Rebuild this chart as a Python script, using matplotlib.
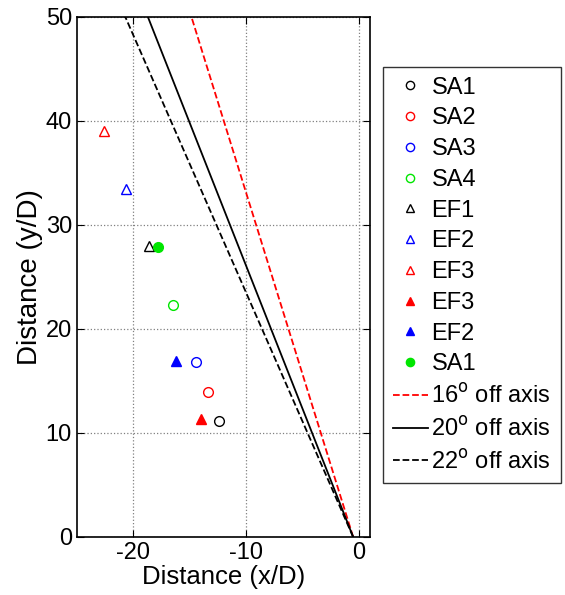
import matplotlib
matplotlib.use("Agg")
import matplotlib.pyplot as plt
import numpy as np

plt.rcParams['font.family'] = ['Liberation Sans', 'DejaVu Sans']
plt.rcParams['axes.unicode_minus'] = False

# points mesurés (x/D, y/D)
labels = ['SA1', 'SA2', 'SA3', 'SA4', 'EF1', 'EF2', 'EF3', 'EF3', 'EF2', 'SA1']
xs = [-12.4, -13.4, -14.4, -16.5, -18.6, -20.6, -22.6, -14.0, -16.2, -17.8]
ys = [11.2, 13.9, 16.8, 22.3, 28.0, 33.5, 39.0, 11.3, 16.9, 27.9]
colors = ['k', 'r', 'b', '#00e600', 'k', 'b', 'r', 'r', 'b', '#00e600']
markers = ['o', 'o', 'o', 'o', '^', '^', '^', '^', '^', 'o']
filled = [False] * 7 + [True] * 3

# droites hors axe
angles = [16, 20, 22]
line_colors = ['r', 'k', 'k']
line_styles = ['--', '-', '--']
x0 = -0.5
y_line = [0, 51]

fig = plt.figure(figsize=(5.65, 5.95), dpi=100)
ax = fig.add_axes([0.136, 0.0975, 0.519, 0.874])

for x, y, c, m, f, lab in zip(xs, ys, colors, markers, filled, labels):
    ax.plot(x, y, linestyle='none', marker=m, markersize=7.5 if m == '^' else 7,
            markeredgecolor=c, markerfacecolor=c if f else 'none',
            markeredgewidth=1.0, label=lab)

for a, c, ls in zip(angles, line_colors, line_styles):
    xl = [x0 - yy * np.tan(np.radians(a)) for yy in y_line]
    ax.plot(xl, y_line, color=c, linestyle=ls, linewidth=1.3,
            label='%d$^\\mathrm{o}$ off axis' % a)

ax.set_xlim(-25, 1)
ax.set_ylim(0, 50)
ax.set_xticks([-20, -10, 0])
ax.set_yticks([0, 10, 20, 30, 40, 50])
ax.grid(True, linestyle=':', color='0.5', linewidth=0.9)
ax.tick_params(direction='in', top=True, right=True, labelsize=17, length=5)
for s in ax.spines.values():
    s.set_linewidth(1.2)
ax.set_xlabel('Distance (x/D)', fontsize=18.5, labelpad=1)
ax.set_ylabel('Distance (y/D)', fontsize=20, labelpad=2)

leg = ax.legend(loc='upper left', bbox_to_anchor=(0.678, 0.887),
                bbox_transform=fig.transFigure, fontsize=17, frameon=True,
                fancybox=False, edgecolor='k', handlelength=1.5,
                handletextpad=0.15, labelspacing=0.37, borderpad=0.4,
                borderaxespad=0, markerscale=0.85)
leg.get_frame().set_linewidth(1.0)

fig.savefig('out.png', dpi=100)
